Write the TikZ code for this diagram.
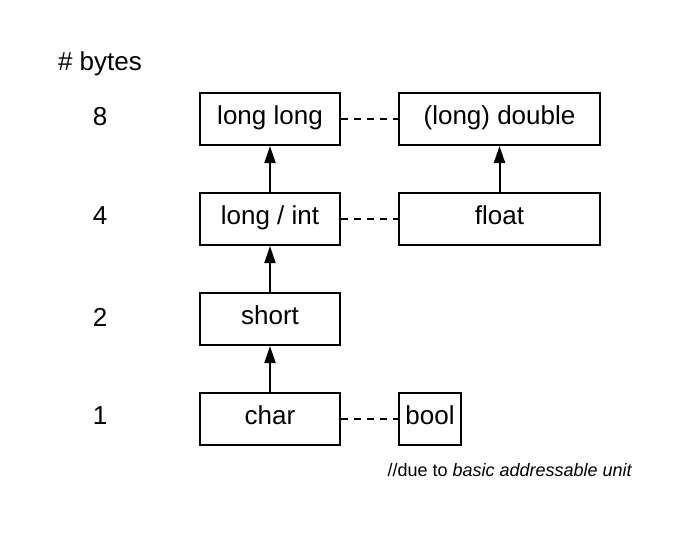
\documentclass[tikz,border=0pt]{standalone}
\usepackage{fontspec}
\setmainfont{Liberation Sans}
\usetikzlibrary{arrows.meta}
\tikzset{
  typebox/.style={draw, line width=2pt, minimum width=140pt, minimum height=52pt, inner sep=0pt, text height=16pt, text depth=5pt, font=\fontsize{26}{30}\selectfont},
  sizelabel/.style={font=\fontsize{26}{30}\selectfont},
  widen/.style={-{Triangle[length=17pt,width=11pt]}, line width=2pt},
  same/.style={line width=2pt, dash pattern=on 7pt off 6pt}
}
\begin{document}
\begin{tikzpicture}[x=1pt, y=-1pt]
    \useasboundingbox (0,0) rectangle (680,539);
    \node [sizelabel] (head) at (100,64) {\# bytes};
    \node [sizelabel] (b8) at (100,117) {8};
    \node [sizelabel] (b4) at (100,216) {4};
    \node [sizelabel] (b2) at (100,317) {2};
    \node [sizelabel] (b1) at (100,416) {1};
    \node [typebox] (llong) at (270,119) {long long};
    \node [typebox] (int) at (270,219) {long / int};
    \node [typebox] (short) at (270,319) {short};
    \node [typebox] (char) at (270,419) {char};
    \node [typebox, minimum width=201pt] (double) at (499.5,119) {(long) double};
    \node [typebox, minimum width=201pt] (float) at (499.5,219) {float};
    \node [typebox, minimum width=62pt] (bool) at (430,419) {bool};
    \node [font=\fontsize{18}{22}\selectfont] (note) at (510,470) {//due to \textit{basic addressable unit}};
    \draw [widen] (char) -- (short);
    \draw [widen] (short) -- (int);
    \draw [widen] (int) -- (llong);
    \draw [widen] (float) -- (double);
    \draw [same] (llong) -- (double);
    \draw [same] (int) -- (float);
    \draw [same] (char) -- (bool);
\end{tikzpicture}
\end{document}
